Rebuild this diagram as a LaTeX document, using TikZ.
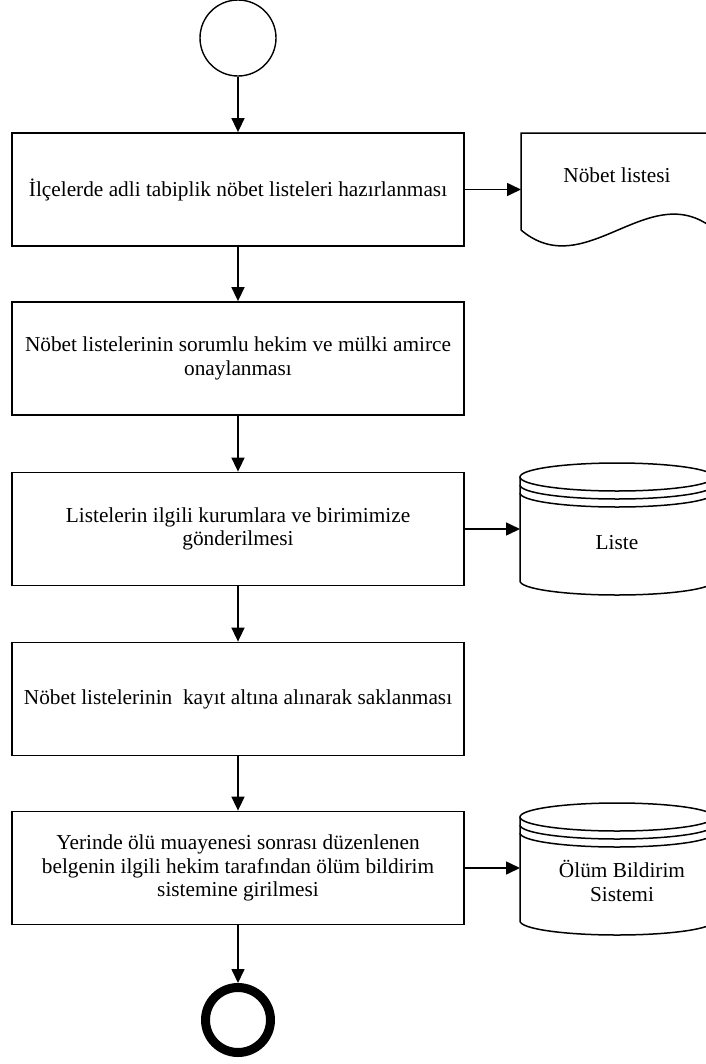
\documentclass[tikz,border=0pt]{standalone}
\usepackage{fontspec}
\setmainfont{Liberation Serif}
\usetikzlibrary{arrows.meta}

\tikzset{
  txt/.style={font=\fontsize{21.3bp}{23.5bp}\selectfont, align=center, inner sep=0pt},
  proc/.style={txt, draw, line width=1.8bp, minimum width=452bp, minimum height=113bp},
  frame/.style={inner sep=0pt, outer sep=0pt},
  flow/.style={line width=1.6bp, -{Triangle[length=14bp,width=13bp]}},
  shapeline/.style={line width=1.5bp},
  startnode/.style={circle, draw, line width=1.4bp, minimum size=76bp, inner sep=0pt},
  endnode/.style={circle, draw, line width=9bp, minimum size=65bp, inner sep=0pt},
  pics/database/.style={code={
    \draw[shapeline] (-97,0) -- (-97,-#1)
      arc[start angle=180, end angle=360, x radius=97, y radius=14] -- (97,0);
    \draw[shapeline] (0,0) ellipse[x radius=97, y radius=14];
    \draw[shapeline] (-97,-8) arc[start angle=180, end angle=360, x radius=97, y radius=14];
    \draw[shapeline] (-97,-16) arc[start angle=180, end angle=360, x radius=97, y radius=14];
  }}
}

\begin{document}
\begin{tikzpicture}[x=1bp, y=1bp]
  \useasboundingbox (0,0) rectangle (706,-1064);
  \clip (0,0) rectangle (706,-1064);

  % main process column
  \node[startnode] (start) at (238,-38) {};
  \node[proc] (p1) at (238,-189.5) {İlçelerde adli tabiplik nöbet listeleri hazırlanması};
  \node[proc] (p2) at (238,-358.5) {Nöbet listelerinin sorumlu hekim ve mülki amirce\\onaylanması};
  \node[proc] (p3) at (238,-529) {Listelerin ilgili kurumlara ve birimimize\\gönderilmesi};
  \node[proc] (p4) at (238,-699) {Nöbet listelerinin~ kayıt altına alınarak saklanması};
  \node[proc] (p5) at (238,-868) {Yerinde ölü muayenesi sonrası düzenlenen\\belgenin ilgili hekim tarafından ölüm bildirim\\sistemine girilmesi};
  \node[endnode] (end) at (238,-1020) {};

  % document: duty list
  \node[frame, minimum width=194bp, minimum height=97bp] (doc) at (618,-181.5) {};
  \draw[shapeline] (doc.south west) -- (doc.north west) -- (doc.north east) -- (doc.south east)
    .. controls (650,-175) and (586,-285) .. (doc.south west);
  \node[txt] (doctxt) at (617,-175) {Nöbet listesi};

  % databases
  \node[frame, minimum width=194bp, minimum height=132bp] (liste) at (617,-529) {};
  \pic at (617,-477) {database=104};
  \node[txt] (listetxt) at (617,-543) {Liste};

  \node[frame, minimum width=194bp, minimum height=132bp] (obs) at (617,-869) {};
  \pic at (617,-817) {database=104};
  \node[txt] (obstxt) at (622,-881) {Ölüm Bildirim\\Sistemi};

  % connectors
  \draw[flow] (start.south) -- (p1.north);
  \draw[flow] (p1.south) -- (p2.north);
  \draw[flow] (p2.south) -- (p3.north);
  \draw[flow] (p3.south) -- (p4.north);
  \draw[flow] (p4.south) -- (p5.north);
  \draw[flow] (p5.south) -- (end.north);
  \draw[flow] (p1.east) -- (p1.east -| doc.west);
  \draw[flow] (p3.east) -- (p3.east -| liste.west);
  \draw[flow] (p5.east) -- (p5.east -| obs.west);
\end{tikzpicture}
\end{document}
